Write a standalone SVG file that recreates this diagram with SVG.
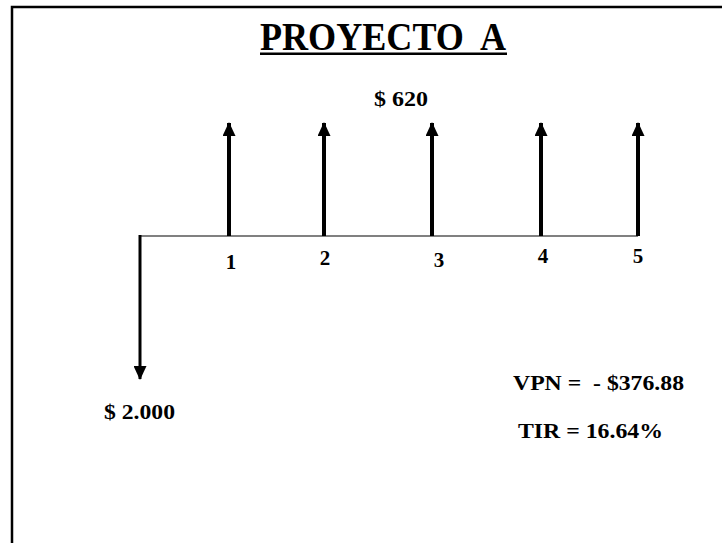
<svg xmlns="http://www.w3.org/2000/svg" width="722" height="543" viewBox="0 0 722 543">
<style>
.t{font-family:"Liberation Serif","Times New Roman",serif;font-weight:bold;fill:#000}
.up{stroke:#000;stroke-width:4;fill:none}
</style>
<defs>
<marker id="ah" viewBox="0 0 14 13" refX="13" refY="6.5" markerWidth="14" markerHeight="13" markerUnits="userSpaceOnUse" orient="auto">
<path d="M0,0 L14,6.5 L0,13 Z" fill="#000"/>
</marker>
</defs>
<rect x="0" y="0" width="722" height="543" fill="#fff"/>
<rect x="12" y="7" width="730" height="560" fill="none" stroke="#000" stroke-width="2.5"/>
<g id="title">
<text class="t" x="383" y="50" font-size="39" text-anchor="middle" textLength="246" lengthAdjust="spacingAndGlyphs" xml:space="preserve">PROYECTO  A</text>
<rect x="260" y="52.5" width="247" height="2.5" fill="#000"/>
</g>
<g id="connectors">
<line x1="139" y1="236" x2="638" y2="236" stroke="#808080" stroke-width="2"/>
<line class="up" x1="229" y1="236" x2="229" y2="123" marker-end="url(#ah)"/>
<line class="up" x1="324" y1="236" x2="324" y2="123" marker-end="url(#ah)"/>
<line class="up" x1="432" y1="236" x2="432" y2="123" marker-end="url(#ah)"/>
<line class="up" x1="541" y1="236" x2="541" y2="123" marker-end="url(#ah)"/>
<line class="up" x1="638" y1="236" x2="638" y2="123" marker-end="url(#ah)"/>
<line x1="140" y1="235" x2="140" y2="379" stroke="#000" stroke-width="3" marker-end="url(#ah)"/>
</g>
<g id="amount-in">
<text class="t" x="374" y="106" font-size="21" textLength="54" lengthAdjust="spacingAndGlyphs" xml:space="preserve">$ 620</text>
</g>
<g id="periods">
<text class="t" x="231" y="269" font-size="21" text-anchor="middle">1</text>
<text class="t" x="325" y="265" font-size="21" text-anchor="middle">2</text>
<text class="t" x="439" y="267" font-size="21" text-anchor="middle">3</text>
<text class="t" x="543" y="263" font-size="21" text-anchor="middle">4</text>
<text class="t" x="638" y="263" font-size="21" text-anchor="middle">5</text>
</g>
<g id="amount-out">
<text class="t" x="104" y="419" font-size="21" textLength="71" lengthAdjust="spacingAndGlyphs" xml:space="preserve">$ 2.000</text>
</g>
<g id="results">
<text class="t" x="513" y="390" font-size="21" textLength="171" lengthAdjust="spacingAndGlyphs" xml:space="preserve">VPN =  - $376.88</text>
<text class="t" x="518" y="438" font-size="21" textLength="145" lengthAdjust="spacingAndGlyphs" xml:space="preserve">TIR = 16.64%</text>
</g>
</svg>
